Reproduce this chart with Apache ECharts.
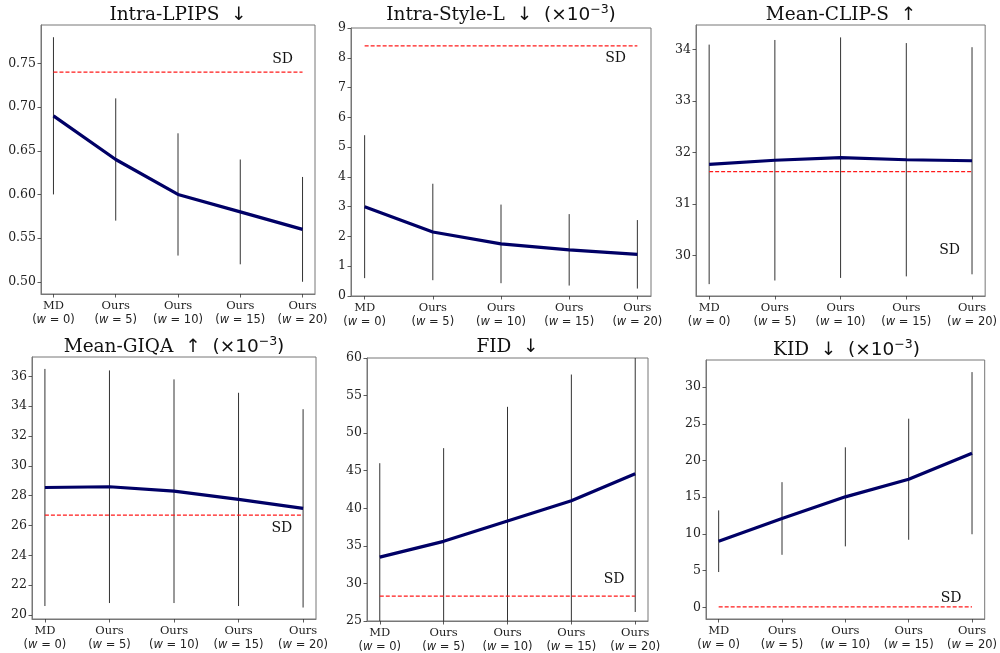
<!DOCTYPE html>
<html>
<head>
<meta charset="utf-8">
<script src="https://cdn.jsdelivr.net/npm/echarts@6/dist/echarts.min.js"></script>
<style>html,body{margin:0;padding:0;background:#fff}#c{width:1000px;height:653px}</style>
</head>
<body>
<div id="c"></div>
<script>
// ---- data ----
const categories = ['MD', 'Ours', 'Ours', 'Ours', 'Ours'];
const wValues = [0, 5, 10, 15, 20];

const titles = ['Intra-LPIPS', 'Intra-Style-L', 'Mean-CLIP-S', 'Mean-GIQA', 'FID', 'KID'];
const arrows = ['↓', '↓', '↑', '↑', '↓', '↓'];
const scaled = [false, true, false, true, false, true];

const lpipsMean = [0.69, 0.64, 0.60, 0.58, 0.56];
const lpipsErr = [0.09, 0.07, 0.07, 0.06, 0.06];
const lpipsSD = 0.74;

const styleMean = [3.0, 2.15, 1.75, 1.55, 1.4];
const styleErr = [2.4, 1.62, 1.32, 1.2, 1.15];
const styleSD = 8.4;

const clipMean = [31.77, 31.85, 31.9, 31.86, 31.84];
const clipErr = [2.32, 2.33, 2.33, 2.26, 2.2];
const clipSD = 31.63;

const giqaMean = [28.55, 28.6, 28.3, 27.75, 27.15];
const giqaErr = [7.95, 7.8, 7.5, 7.15, 6.65];
const giqaSD = 26.7;

const fidMean = [33.5, 35.6, 38.3, 41.0, 44.6];
const fidErr = [12.5, 12.4, 15.2, 16.8, 18.4];
const fidSD = 28.3;

const kidMean = [9.0, 12.1, 15.05, 17.45, 21.0];
const kidErr = [4.2, 4.95, 6.75, 8.25, 11.05];
const kidSD = 0.05;

const yTicks1 = [0.50, 0.55, 0.60, 0.65, 0.70, 0.75];
const yTicks2 = [0, 1, 2, 3, 4, 5, 6, 7, 8, 9];
const yTicks3 = [30, 31, 32, 33, 34];
const yTicks4 = [20, 22, 24, 26, 28, 30, 32, 34, 36];
const yTicks5 = [25, 30, 35, 40, 45, 50, 55, 60];
const yTicks6 = [0, 5, 10, 15, 20, 25, 30];

// ---- layout / style ----
const panels = [
  {mean: lpipsMean, err: lpipsErr, sd: lpipsSD, ticks: yTicks1, dec: 2, ymin: 0.486, ymax: 0.794,
   grid: {left: 41, top: 25, width: 274, height: 269}, titleY: 15, sdPos: [3.68, 0.755]},
  {mean: styleMean, err: styleErr, sd: styleSD, ticks: yTicks2, dec: 0, ymin: 0, ymax: 9,
   grid: {left: 351, top: 28, width: 300, height: 268}, titleY: 15, sdPos: [3.68, 7.98]},
  {mean: clipMean, err: clipErr, sd: clipSD, ticks: yTicks3, dec: 0, ymin: 29.22, ymax: 34.47,
   grid: {left: 696, top: 25, width: 290, height: 271}, titleY: 15, sdPos: [3.66, 30.1]},
  {mean: giqaMean, err: giqaErr, sd: giqaSD, ticks: yTicks4, dec: 0, ymin: 19.73, ymax: 37.3,
   grid: {left: 32, top: 357, width: 284, height: 262}, titleY: 347, sdPos: [3.67, 25.83]},
  {mean: fidMean, err: fidErr, sd: fidSD, ticks: yTicks5, dec: 0, ymin: 25, ymax: 60,
   grid: {left: 367, top: 358, width: 281, height: 263}, titleY: 347, sdPos: [3.67, 30.54]},
  {mean: kidMean, err: kidErr, sd: kidSD, ticks: yTicks6, dec: 0, ymin: -1.6, ymax: 33.7,
   grid: {left: 706, top: 360, width: 281, height: 259}, titleY: 350, sdPos: [3.67, 1.28]}
];

const SERIF = 'DejaVu Serif';
const SANS = 'DejaVu Sans';
const xIdx = [0, 1, 2, 3, 4];
const FRAME = '#777';

const option = {
  animation: false,
  backgroundColor: '#fff',
  title: [], grid: [], xAxis: [], yAxis: [], series: []
};

panels.forEach((p, k) => {
  const g = p.grid;
  option.grid.push({left: g.left, top: g.top, width: g.width, height: g.height,
    show: true, borderColor: FRAME, borderWidth: 1, backgroundColor: 'transparent', containLabel: false});
  let txt = '{n|' + titles[k] + '}{s|  ' + arrows[k] + '}';
  if (scaled[k]) txt += '{s|  (×10}{sup|−3}{s|)}';
  option.title.push({
    text: txt, left: g.left + g.width / 2, top: p.titleY - 12, textAlign: 'center', padding: 0,
    textStyle: {fontWeight: 'normal', rich: {
      n: {fontFamily: SERIF, fontWeight: 'normal', fontSize: 18.5, lineHeight: 24, color: '#111'},
      s: {fontFamily: SANS, fontWeight: 'normal', fontSize: 18.5, lineHeight: 24, color: '#111'},
      sup: {fontFamily: SANS, fontWeight: 'normal', fontSize: 12.5, lineHeight: 12, verticalAlign: 'top', color: '#111'}
    }}
  });
  option.xAxis.push({
    type: 'value', gridIndex: k, min: -0.2, max: 4.2,
    splitLine: {show: false}, axisLine: {show: true, onZero: false, lineStyle: {color: FRAME, width: 1}},
    axisTick: {show: true, inside: false, customValues: xIdx, length: 3.5, lineStyle: {color: '#333', width: 0.8}},
    axisLabel: {
      customValues: xIdx, margin: 5,
      formatter: v => {
        const i = Math.round(v);
        return '{c|' + categories[i] + '}\n{p|(}{i|w}{p| = ' + wValues[i] + ')}';
      },
      rich: {
        c: {fontFamily: SERIF, fontSize: 11.5, lineHeight: 14, color: '#222'},
        p: {fontFamily: SANS, fontSize: 11.5, lineHeight: 14, color: '#222'},
        i: {fontFamily: SANS, fontStyle: 'italic', fontSize: 11.5, lineHeight: 14, color: '#222'}
      }
    }
  });
  option.yAxis.push({
    type: 'value', gridIndex: k, min: p.ymin, max: p.ymax,
    splitLine: {show: false}, axisLine: {show: true, onZero: false, lineStyle: {color: FRAME, width: 1}},
    axisTick: {show: true, inside: false, customValues: p.ticks, length: 3.5, lineStyle: {color: '#333', width: 0.8}},
    axisLabel: {customValues: p.ticks, margin: 5, fontFamily: SERIF, fontSize: 12.5, color: '#222',
      formatter: v => Number(v).toFixed(p.dec)}
  });
  // error bars
  option.series.push({
    type: 'custom', xAxisIndex: k, yAxisIndex: k, z: 2,
    data: p.mean.map((m, i) => [i, m, p.err[i]]),
    renderItem: (params, api) => {
      const x = api.value(0), m = api.value(1), e = api.value(2);
      const a = api.coord([x, m - e]), b = api.coord([x, m + e]);
      const cs = params.coordSys;
      const clamp = y => Math.max(cs.y, Math.min(cs.y + cs.height, y));
      return {type: 'line', shape: {x1: a[0], y1: clamp(a[1]), x2: b[0], y2: clamp(b[1])},
        style: {stroke: '#333', lineWidth: 1}};
    }
  });
  // SD reference
  option.series.push({
    type: 'line', xAxisIndex: k, yAxisIndex: k, z: 3, symbol: 'none', silent: true,
    data: [[0, p.sd], [4, p.sd]],
    lineStyle: {color: '#ff1a1a', width: 1.2, type: [4, 2]}
  });
  // mean line
  option.series.push({
    type: 'line', xAxisIndex: k, yAxisIndex: k, z: 4, symbol: 'none', silent: true,
    data: p.mean.map((m, i) => [i, m]),
    lineStyle: {color: '#000066', width: 3.2}
  });
  // SD label
  option.series.push({
    type: 'custom', xAxisIndex: k, yAxisIndex: k, z: 5,
    data: [p.sdPos],
    renderItem: (params, api) => {
      const c = api.coord([api.value(0), api.value(1)]);
      return {type: 'text', x: c[0], y: c[1],
        style: {text: 'SD', fontFamily: SERIF, fontSize: 14, fill: '#111', align: 'center', verticalAlign: 'middle'}};
    }
  });
});

const chart = echarts.init(document.getElementById('c'), null, {renderer: 'canvas'});
chart.setOption(option);
</script>
</body>
</html>
